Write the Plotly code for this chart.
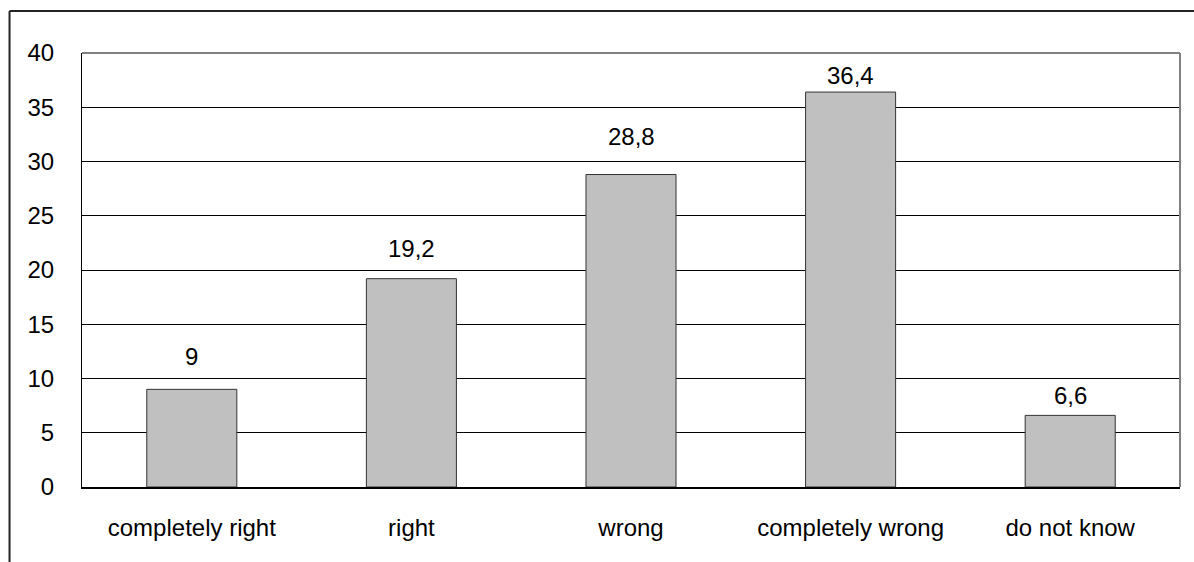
import plotly.graph_objects as go

categories = ["completely right", "right", "wrong", "completely wrong", "do not know"]
values = [9, 19.2, 28.8, 36.4, 6.6]
value_labels = ["9", "19,2", "28,8", "36,4", "6,6"]
label_offsets = [33, 30, 38, 17, 20]  # px above each bar top
y_ticks = [0, 5, 10, 15, 20, 25, 30, 35, 40]

FONT = "Liberation Sans, Arial, sans-serif"

fig = go.Figure()
fig.add_trace(go.Bar(
    x=categories,
    y=values,
    marker=dict(color="#C0C0C0", line=dict(color="#333333", width=1)),
    hoverinfo="x+y",
))

for cat, val, lab, off in zip(categories, values, value_labels, label_offsets):
    fig.add_annotation(
        x=cat, y=val, text=lab, showarrow=False,
        xref="x", yref="y", yanchor="middle", yshift=off,
        font=dict(family=FONT, size=24, color="#000000"),
    )

# top gridline of the plot area, gray right edge, and outer chart frame
fig.add_shape(type="line", xref="paper", yref="paper", x0=0, x1=1, y0=1, y1=1,
              line=dict(color="#000000", width=1))
fig.add_shape(type="line", xref="paper", yref="paper", x0=1, x1=1, y0=0, y1=1,
              line=dict(color="#808080", width=2))
fig.add_shape(type="line", xref="paper", yref="paper", x0=-0.0660, x1=1.05,
              y0=1.0968, y1=1.0968, line=dict(color="#222222", width=2))
fig.add_shape(type="line", xref="paper", yref="paper", x0=-0.0660, x1=-0.0660,
              y0=1.0968, y1=-0.2, line=dict(color="#222222", width=2))

fig.update_layout(
    width=1194, height=562,
    margin=dict(l=82, r=14, t=53, b=75),
    paper_bgcolor="white", plot_bgcolor="white",
    bargap=0.59,
    showlegend=False,
    separators=", ",
    font=dict(family=FONT, size=24, color="#000000"),
)
fig.update_xaxes(
    showline=True, linecolor="#000000", linewidth=2, mirror=False,
    showgrid=False, ticks="", ticklabelstandoff=18,
    tickfont=dict(family=FONT, size=24, color="#000000"),
)
fig.update_yaxes(
    range=[0, 40], tickvals=y_ticks,
    showline=True, linecolor="#000000", linewidth=1,
    showgrid=True, gridcolor="#000000", gridwidth=1,
    zeroline=False, ticks="", ticklabelstandoff=22,
    tickfont=dict(family=FONT, size=24, color="#000000"),
)

fig.write_html("out.html")
